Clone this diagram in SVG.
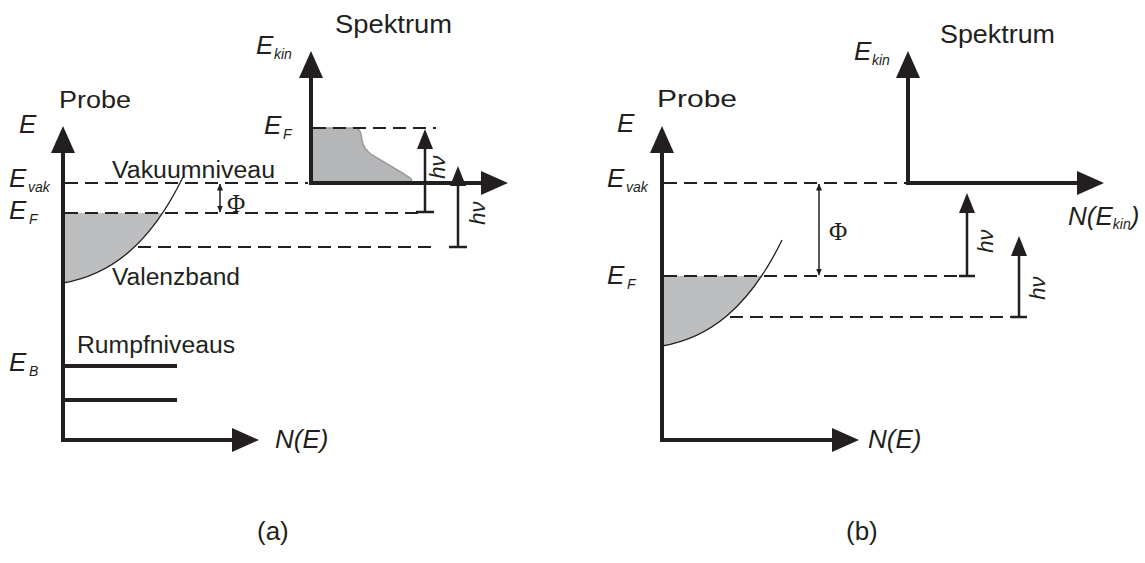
<svg xmlns="http://www.w3.org/2000/svg" width="1145" height="563" viewBox="0 0 1145 563">
<style>
text{font-family:"Liberation Sans",Arial,sans-serif;fill:#231f20}
.lbl{font-size:23px}
.it{font-style:italic;font-size:26px}
.sub{font-style:italic;font-size:14px}
.phi{font-family:"Liberation Serif","Times New Roman",serif;font-size:25px}
.hv{font-style:italic;font-size:22px}
.axis{fill:none;stroke:#231f20;stroke-width:4;stroke-linejoin:miter;marker-start:url(#ahs);marker-end:url(#ah)}
.dash{fill:none;stroke:#231f20;stroke-width:2;stroke-dasharray:13 7}
.hva{fill:none;stroke:#231f20;stroke-width:2.5;marker-end:url(#ahm)}
.bar{fill:none;stroke:#231f20;stroke-width:2.5}
.core{fill:none;stroke:#231f20;stroke-width:4}
.phia{fill:none;stroke:#231f20;stroke-width:1.5;marker-start:url(#ahss);marker-end:url(#ahsm)}
.band{fill:#bcbec0;stroke:none}
.curve{fill:none;stroke:#231f20;stroke-width:1.3}
</style>
<defs>
<marker id="ah" markerUnits="userSpaceOnUse" viewBox="0 -12 27 24" refX="1" refY="0" markerWidth="27" markerHeight="24" orient="auto"><path d="M0,-12 L27,0 L0,12 z" fill="#231f20"/></marker>
<marker id="ahs" markerUnits="userSpaceOnUse" viewBox="0 -12 27 24" refX="1" refY="0" markerWidth="27" markerHeight="24" orient="auto-start-reverse"><path d="M0,-12 L27,0 L0,12 z" fill="#231f20"/></marker>
<marker id="ahm" markerUnits="userSpaceOnUse" viewBox="0 -8 20 16" refX="1" refY="0" markerWidth="20" markerHeight="16" orient="auto"><path d="M0,-8 L20,0 L0,8 z" fill="#231f20"/></marker>
<marker id="ahsm" markerUnits="userSpaceOnUse" viewBox="0 -3 7 6" refX="6.5" refY="0" markerWidth="7" markerHeight="6" orient="auto"><path d="M0,-3 L7,0 L0,3 z" fill="#231f20"/></marker>
<marker id="ahss" markerUnits="userSpaceOnUse" viewBox="0 -3 7 6" refX="6.5" refY="0" markerWidth="7" markerHeight="6" orient="auto-start-reverse"><path d="M0,-3 L7,0 L0,3 z" fill="#231f20"/></marker>
<clipPath id="belowEF" clipPathUnits="userSpaceOnUse"><rect x="0" y="213" width="400" height="200"/></clipPath>
</defs>

<g id="panel-a">
  <g id="a-band">
    <path class="band" clip-path="url(#belowEF)" d="M63,283 C110,275 150,245 183,177 L63,177 Z"/>
    <path class="curve" d="M63,283 C110,275 150,245 183,177"/>
  </g>
  <g id="a-spectrum-shape">
    <path d="M311,128 H354 C360,128 361,133 362,140 C363,147 366,150 372,155 L404,174 C410,178 414,180 410,181.5 L311,183 Z" fill="#b5b6b8" stroke="#9a9a9a" stroke-width="1.5"/>
  </g>
  <g id="a-core-levels">
    <path class="core" d="M63,366 H177"/>
    <path class="core" d="M63,400 H177"/>
  </g>
  <g id="a-labels">
    <text class="lbl" x="59" y="108" textLength="72" lengthAdjust="spacingAndGlyphs">Probe</text>
    <text class="lbl" x="335" y="33" style="font-size:25px" textLength="117" lengthAdjust="spacingAndGlyphs">Spektrum</text>
    <text class="lbl" x="112" y="178" textLength="163" lengthAdjust="spacingAndGlyphs">Vakuumniveau</text>
    <text class="lbl" x="112" y="285" textLength="128" lengthAdjust="spacingAndGlyphs">Valenzband</text>
    <text class="lbl" x="77" y="353" textLength="158" lengthAdjust="spacingAndGlyphs">Rumpfniveaus</text>
    <text class="it" x="19" y="133">E</text>
    <text class="it" x="9" y="187">E</text><text class="sub" x="28" y="192">vak</text>
    <text class="it" x="9" y="219">E</text><text class="sub" x="29" y="224">F</text>
    <text class="it" x="9" y="371">E</text><text class="sub" x="29" y="376">B</text>
    <text class="it" x="256" y="54">E</text><text class="sub" x="274" y="59">kin</text>
    <text class="it" x="264" y="134">E</text><text class="sub" x="283" y="139">F</text>
    <text class="it" x="275" y="448">N(E)</text>
    <text class="phi" x="227" y="212">Φ</text>
    <text class="hv" transform="translate(445,167) rotate(-90)" text-anchor="middle">hν</text>
    <text class="hv" transform="translate(485,213) rotate(-90)" text-anchor="middle">hν</text>
    <text x="257" y="540" style="font-size:26px">(a)</text>
  </g>
</g>

<g id="panel-b">
  <g id="b-band" transform="translate(599,63)">
    <path class="band" clip-path="url(#belowEF)" d="M63,283 C110,275 150,245 183,177 L63,177 Z"/>
    <path class="curve" d="M63,283 C110,275 150,245 183,177"/>
  </g>
  <g id="b-labels">
    <text class="lbl" x="657" y="107" style="font-size:24px" textLength="80" lengthAdjust="spacingAndGlyphs">Probe</text>
    <text class="lbl" x="940" y="43" style="font-size:25px" textLength="115" lengthAdjust="spacingAndGlyphs">Spektrum</text>
    <text class="it" x="617" y="132">E</text>
    <text class="it" x="607" y="187">E</text><text class="sub" x="626" y="192">vak</text>
    <text class="it" x="607" y="284">E</text><text class="sub" x="627" y="289">F</text>
    <text class="it" x="854" y="60">E</text><text class="sub" x="872" y="65">kin</text>
    <text class="it" x="868" y="448">N(E)</text>
    <text class="it" x="1068" y="225">N(E<tspan class="sub" dy="4">kin</tspan><tspan dy="-4">)</tspan></text>
    <text class="phi" x="829" y="240">Φ</text>
    <text class="hv" transform="translate(993,241) rotate(-90)" text-anchor="middle">hν</text>
    <text class="hv" transform="translate(1045,288) rotate(-90)" text-anchor="middle">hν</text>
    <text x="846" y="540" style="font-size:26px">(b)</text>
  </g>
</g>

<g id="connectors">
  <path class="axis" d="M63,152 V440 H233"/>
  <path class="axis" d="M311,77 V183 H482"/>
  <path class="axis" d="M662,152 V440 H833"/>
  <path class="axis" d="M908,77 V183 H1078"/>
  <path class="dash" d="M65,183 H308"/>
  <path class="dash" d="M65,213 H420"/>
  <path class="dash" d="M138,247 H433"/>
  <path class="dash" d="M313,128 H436"/>
  <path class="dash" d="M664,183 H906"/>
  <path class="dash" d="M664,276 H960"/>
  <path class="dash" d="M730,317 H1012"/>
  <path class="phia" d="M220,184 V212"/>
  <path class="phia" d="M819,184 V275"/>
  <path class="hva" d="M425,212 V148"/>
  <path class="bar" d="M416,212 H434"/>
  <path class="hva" d="M458,247 V185"/>
  <path class="bar" d="M449,247 H467"/>
  <path class="hva" d="M967,276 V212"/>
  <path class="bar" d="M959,276 H975"/>
  <path class="hva" d="M1019,317 V255"/>
  <path class="bar" d="M1011,317 H1027"/>
</g>
</svg>
